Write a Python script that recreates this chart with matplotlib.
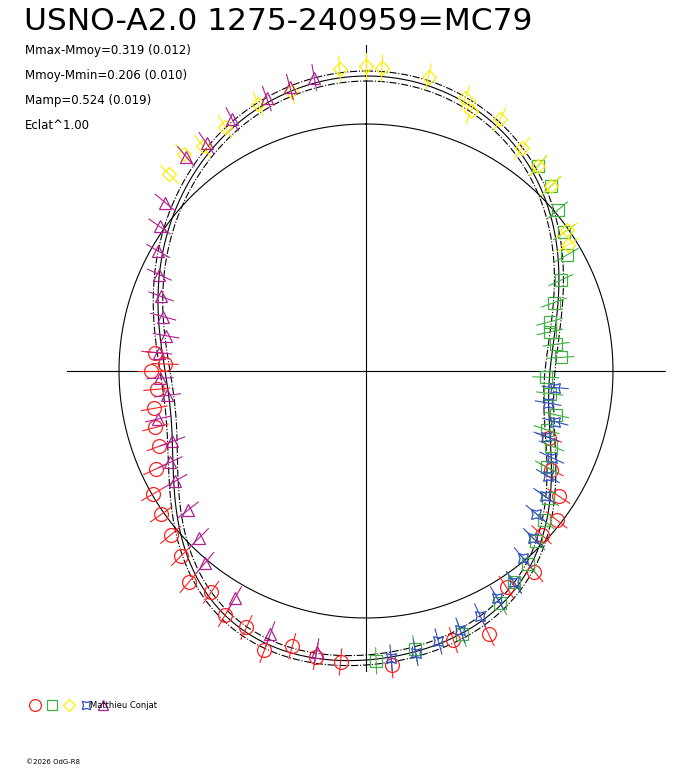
import numpy as np
import matplotlib.pyplot as plt

title = "USNO-A2.0 1275-240959=MC79"
info = ["Mmax-Mmoy=0.319 (0.012)", "Mmoy-Mmin=0.206 (0.010)",
        "Mamp=0.524 (0.019)", "Eclat^1.00"]

# model curve knots: phase angle (deg, clockwise from top) -> radius
knot_ang = np.arange(0, 360, 30)
knot_r = [295, 275, 222, 184, 214, 270, 289, 282, 222, 201, 235, 276]

yel_a = [-45, -40, -36, -30, -22, -15, -5, 0, 3, 12, 20, 22, 28, 35, 40, 45, 55, 58]
yel_r = [278, 283, 278, 282, 288, 290, 303, 305, 303, 301, 290, 280, 285, 272, 268, 262, 245, 238]
pur_a = [-10, -15, -20, -28, -35, -40, -50, -55, -60, -65, -70, -75, -80, -85, -92, -97,
         -103, -110, -115, -120, -128, -135, -140, -150, -160, -170]
pur_r = [298, 294, 290, 285, 278, 280, 262, 252, 240, 228, 218, 210, 203, 208, 206, 200,
         213, 206, 216, 220, 226, 236, 250, 262, 280, 285]
grn_a = [40, 45, 50, 55, 60, 65, 70, 75, 78, 82, 86, 92, 97, 103, 108, 112, 118, 125,
         130, 135, 140, 145, 150, 160, 170, 178]
grn_r = [268, 262, 250, 242, 232, 215, 200, 190, 188, 192, 195, 180, 185, 195, 190, 200,
         205, 222, 232, 240, 252, 258, 268, 280, 282, 290]
blu_a = [95, 100, 105, 110, 115, 120, 125, 130, 135, 140, 145, 150, 155, 160, 165, 170, 175]
blu_r = [190, 185, 196, 192, 205, 210, 218, 222, 236, 244, 258, 262, 270, 276, 280, 286, 288]
red_a = [110, 118, 123, 128, 133, 140, 147, 155, 162, 175,
         185, 190, 195, 200, 205, 210, 215, 220, 225, 230, 235, 240, 245, 250, 255, 260,
         265, 270, 275, 272]
red_r = [195, 210, 230, 242, 240, 262, 258, 290, 283, 295,
         292, 290, 285, 297, 283, 282, 270, 276, 262, 255, 250, 246, 232, 220, 218, 215,
         210, 215, 212, 201]

fig = plt.figure(figsize=(6.88, 7.68), dpi=100)
ax = fig.add_axes([0, 0, 1, 1])
ax.set_xlim(-366, 322)
ax.set_ylim(-397, 371)
ax.axis("off")

# axes and reference circle
ax.plot([-299, 299], [0, 0], color="black", lw=0.8)
ax.plot([0, 0], [-300, 326], color="black", lw=0.8)
t = np.linspace(0, 2 * np.pi, 400)
ax.plot(247 * np.sin(t), 247 * np.cos(t), color="black", lw=0.8)

# smooth periodic curve through the knots (trig interpolation)
c = np.fft.rfft(knot_r)
n = len(knot_r)
th = np.linspace(0, 2 * np.pi, 721)
rr = np.full_like(th, c[0].real / n)
for k in range(1, len(c)):
    w = 1 if k == n // 2 else 2
    rr += w * (c[k].real * np.cos(k * th) - c[k].imag * np.sin(k * th)) / n
for off, ls in [(0, "-"), (-5, "-."), (5, "-.")]:
    ax.plot((rr + off) * np.sin(th), (rr + off) * np.cos(th), color="black", lw=0.8, ls=ls)

series = [(red_a, red_r, "o", "#ff2020", 10), (grn_a, grn_r, "s", "#40b040", 8),
          (yel_a, yel_r, "D", "#ffee00", 7), (blu_a, blu_r, (4, 1, 45), "#3050c0", 10),
          (pur_a, pur_r, "^", "#b02090", 9)]
for a, r, m, col, ms in series:
    a = np.radians(a)
    r = np.array(r)
    for ai, ri in zip(a, r):
        ax.plot([(ri - 13) * np.sin(ai), (ri + 13) * np.sin(ai)],
                [(ri - 13) * np.cos(ai), (ri + 13) * np.cos(ai)], color=col, lw=0.8)
    ax.plot(r * np.sin(a), r * np.cos(a), ls="none", marker=m, ms=ms, mfc="none",
            mec=col, mew=0.9)

fig.text(0.035, 0.972, title, fontsize=22.5, va="center", ha="left")
for i, s in enumerate(info):
    fig.text(0.036, 0.934 - i * 0.0325, s, fontsize=8.5, va="center")

# legend row
lx = [35, 52, 69, 86, 103]
for x, (a, r, m, col, ms) in zip(lx, series):
    ax.plot(x - 366, 371 - 705, marker=m, ms=ms * 0.85, mfc="none", mec=col, mew=0.9)
fig.text(0.131, 1 - 705 / 768, "Matthieu Conjat", fontsize=6, va="center")
fig.text(0.038, 1 - 762 / 768, "\u00a92026 OdG-R8", fontsize=5, va="center")

fig.savefig("out.png", dpi=100)
